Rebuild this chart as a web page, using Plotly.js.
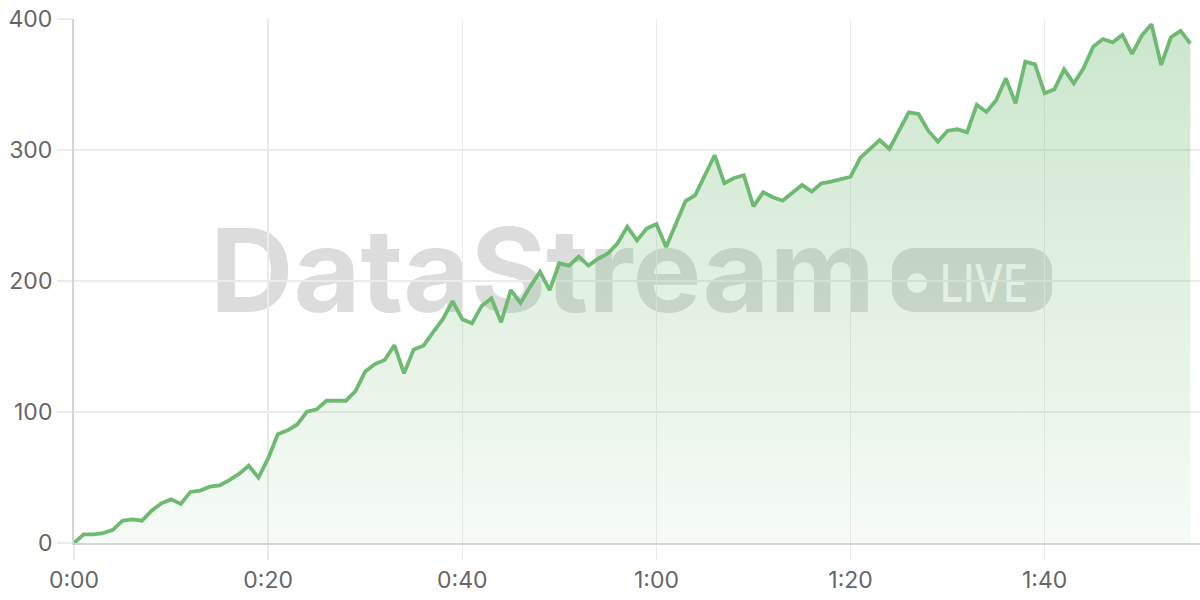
<!DOCTYPE html>
<html>
<head>
<meta charset="utf-8">
<script src="https://cdn.plot.ly/plotly-3.0.1.min.js"></script>
<style>
  html, body { margin: 0; padding: 0; background: #ffffff; }
  #wrap { position: relative; width: 1200px; height: 600px; overflow: hidden; }
  #wm { position: absolute; left: 0; top: 0; z-index: 0; }
  #chart { position: absolute; left: 0; top: 0; width: 1200px; height: 600px; z-index: 1; }
</style>
</head>
<body>
<div id="wrap">
  <svg id="wm" width="1200" height="600" xmlns="http://www.w3.org/2000/svg">
    <text x="210" y="312" font-family="Inter, 'Noto Sans', sans-serif" font-weight="700" font-size="116" fill="#dcdcdc" textLength="665" lengthAdjust="spacingAndGlyphs">DataStream</text>
    <rect x="892" y="248" width="160" height="64" rx="22" ry="22" fill="#dcdcdc"></rect>
    <circle cx="917" cy="283" r="10" fill="#ffffff"></circle>
    <text x="940" y="302" font-family="Inter, 'Noto Sans', sans-serif" font-weight="500" font-size="52" fill="#ffffff" textLength="88" lengthAdjust="spacingAndGlyphs">LIVE</text>
  </svg>
  <div id="chart"></div>
</div>
<script>
const seconds = [0,1,2,3,4,5,6,7,8,9,10,11,12,13,14,15,16,17,18,19,20,21,22,23,24,25,26,27,28,29,30,31,32,33,34,35,36,37,38,39,40,41,42,43,44,45,46,47,48,49,50,51,52,53,54,55,56,57,58,59,60,61,62,63,64,65,66,67,68,69,70,71,72,73,74,75,76,77,78,79,80,81,82,83,84,85,86,87,88,89,90,91,92,93,94,95,96,97,98,99,100,101,102,103,104,105,106,107,108,109,110,111,112,113,114,115];
const values = [0,6.6,6.6,7.6,10,17,18,17,24.7,30.3,33.3,29.8,39,40,43,44,48,52.7,59,50,64.6,83,86,90.5,100.3,102,108.6,108.6,108.6,116,131,136.6,139.7,151,129.5,147.8,150.6,161,170.8,184.7,170.8,167.7,181,186.8,168.5,193,183.2,195.7,207,193,213.5,211.7,218.6,211.7,217,221,228.8,241.5,231,240,243.5,226,242.7,261,265.6,281,296,274.6,278.6,280.7,257,267.7,263.9,261.3,267.4,273.3,268.2,274.6,275.8,277.6,279.6,294,301.3,307.6,300.8,314.7,328.8,327.5,314.7,306.3,314.7,315.8,313.5,334.5,329,338,354.7,335.6,367.4,365.4,343.3,346.3,361.6,350.9,362.4,378.9,384.7,382.2,387.8,373.3,387.3,396,364.9,386,391,381.4];
const xTickVals = [0,20,40,60,80,100];
const xTickText = ['0:00','0:20','0:40','1:00','1:20','1:40'];
const yTickVals = [0,100,200,300,400];

const trace = {
  x: seconds,
  y: values,
  type: 'scatter',
  mode: 'lines',
  line: { color: 'rgb(111,186,114)', width: 3.8 },
  fill: 'tozeroy',
  fillgradient: {
    type: 'vertical',
    start: 0,
    stop: 400,
    colorscale: [[0, 'rgba(111,186,114,0.06)'], [1, 'rgba(111,186,114,0.36)']]
  },
  hoverinfo: 'skip'
};

const layout = {
  width: 1200,
  height: 600,
  margin: { l: 74, r: 0, t: 19, b: 57 },
  paper_bgcolor: 'rgba(0,0,0,0)',
  plot_bgcolor: 'rgba(0,0,0,0)',
  showlegend: false,
  font: { family: 'Inter, "Noto Sans", sans-serif', size: 23, color: '#666666' },
  xaxis: {
    range: [0, 116],
    tickvals: xTickVals,
    ticktext: xTickText,
    showgrid: true,
    gridcolor: '#ebebeb',
    gridwidth: 1.5,
    zeroline: false,
    showline: true,
    linecolor: '#d4d4d4',
    linewidth: 2,
    ticks: 'outside',
    ticklen: 15,
    tickwidth: 1.5,
    tickcolor: '#ebebeb',
    fixedrange: true
  },
  yaxis: {
    range: [0, 400],
    tickvals: yTickVals,
    showgrid: true,
    gridcolor: '#ebebeb',
    gridwidth: 1.5,
    zeroline: false,
    showline: true,
    linecolor: '#d4d4d4',
    linewidth: 2,
    ticks: 'outside',
    ticklen: 15,
    tickwidth: 1.5,
    tickcolor: '#ebebeb',
    fixedrange: true
  }
};

Plotly.newPlot('chart', [trace], layout, { displayModeBar: false, staticPlot: true });
</script>
</body>
</html>
